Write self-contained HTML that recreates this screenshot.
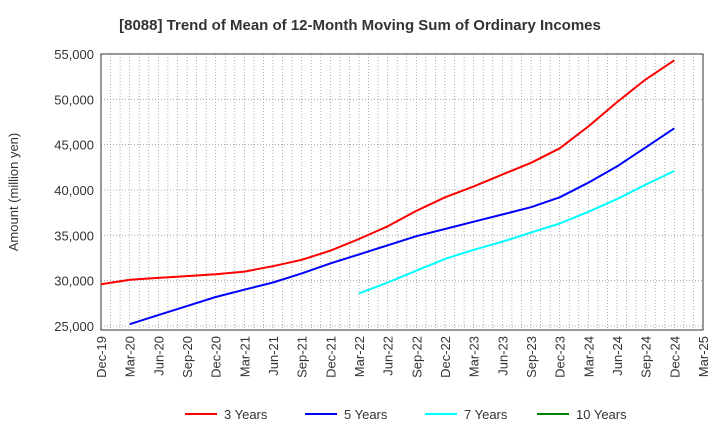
<!DOCTYPE html>
<html><head><meta charset="utf-8"><style>
body{margin:0;background:#fff;}
svg{display:block;font-family:"Liberation Sans",sans-serif;}
</style></head><body>
<svg id="c" width="720" height="440"></svg>
<script>
const categories=["Dec-19","Mar-20","Jun-20","Sep-20","Dec-20","Mar-21","Jun-21","Sep-21","Dec-21","Mar-22","Jun-22","Sep-22","Dec-22","Mar-23","Jun-23","Sep-23","Dec-23","Mar-24","Jun-24","Sep-24","Dec-24","Mar-25"];
const yTicks=[25000,30000,35000,40000,45000,50000,55000];
const s3=[29600,30100,30300,30500,30700,31000,31600,32300,33300,34600,36000,37700,39200,40400,41700,43000,44600,47000,49700,52200,54300];
const s5=[null,25200,26200,27200,28200,29000,29800,30800,31900,32900,33900,34900,35700,36500,37300,38100,39200,40800,42600,44700,46800];
const s7=[null,null,null,null,null,null,null,null,null,28600,29800,31100,32400,33400,34300,35300,36300,37600,39000,40600,42100];
const s10=[];
const seriesNames=["3 Years","5 Years","7 Years","10 Years"];
const colors=["#ff0000","#0000ff","#00ffff","#008000"];
const L=101,R=703,T=54,B=330;
const NS="http://www.w3.org/2000/svg";
const svg=document.getElementById('c');
function x(i){return L+i*(R-L)/(categories.length-1);}
function y(v){return 326-(v-25000)*(326-T)/30000;}
function el(t,a,p){const e=document.createElementNS(NS,t);for(const k in a)e.setAttribute(k,a[k]);(p||svg).appendChild(e);return e;}
const title=el('text',{x:360,y:30,'text-anchor':'middle','font-size':15,'font-weight':'bold',fill:'#333'});
title.textContent="[8088]  Trend of Mean of 12-Month Moving Sum of Ordinary Incomes";


for(let m=1;m<(categories.length-1)*3;m++){
 const gx=L+m*(R-L)/((categories.length-1)*3);
 const g=el('line',{x1:gx,x2:gx,y1:T,y2:B,stroke:'#999','stroke-width':0.8,'stroke-dasharray':'1,2'});
 
 
}
yTicks.forEach(v=>{
 const g=el('line',{x1:L,x2:R,y1:y(v),y2:y(v),stroke:'#999','stroke-width':0.8,'stroke-dasharray':'1,2'});
 
 
 const t=el('text',{x:L-7,y:y(v)+5,'text-anchor':'end','font-size':13,fill:'#333'});
 t.textContent=v.toLocaleString('en-US');
 
 
});
const fr=el('rect',{x:L,y:T,width:R-L,height:B-T,fill:'none',stroke:'#333','stroke-width':1});


categories.forEach((c,i)=>{
 const t=el('text',{transform:`translate(${x(i)+5},${B+6}) rotate(-90)`,'text-anchor':'end','font-size':13,fill:'#333'});
 t.textContent=c;
 
 
});
const yt=el('text',{transform:'translate(18,192) rotate(-90)','text-anchor':'middle','font-size':13,fill:'#333'});
yt.textContent="Amount (million yen)";


[s3,s5,s7,s10].forEach((s,k)=>{
 const pts=[];s.forEach((v,i)=>{if(v!=null)pts.push(x(i).toFixed(1)+','+y(v).toFixed(1));});
 if(pts.length<2)return;
 const p=el('polyline',{points:pts.join(' '),fill:'none',stroke:colors[k],'stroke-width':2,'stroke-linejoin':'round'});
 
 
});
const lx=[185,305,425,537];
seriesNames.forEach((n,k)=>{
 const g=el('g',{});
 
 
 el('line',{x1:lx[k],x2:lx[k]+32,y1:414,y2:414,stroke:colors[k],'stroke-width':2},g);
 const t=el('text',{x:lx[k]+39,y:419,'font-size':13,fill:'#333'},g);
 t.textContent=n;
});
</script>
</body></html>
